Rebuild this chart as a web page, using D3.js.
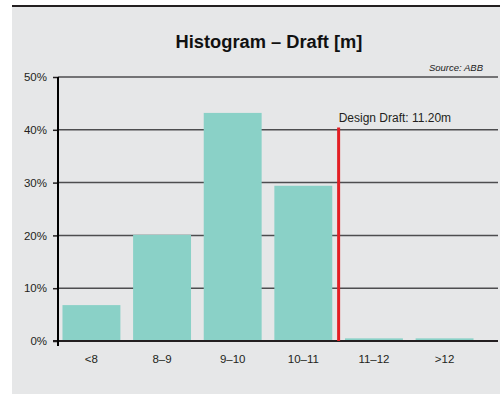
<!DOCTYPE html>
<html><head><meta charset="utf-8">
<script src="https://cdn.jsdelivr.net/npm/d3@7"></script>
<style>body{margin:0;background:#fff;}svg{display:block;font-family:"Liberation Sans",Arial,sans-serif;}</style>
</head><body>
<script>
const categories = ["<8", "8–9", "9–10", "10–11", "11–12", ">12"];
const shares = [6.8, 20.1, 43.2, 29.4, 0.5, 0.5];
const yTicks = [0, 10, 20, 30, 40, 50];
const designDraft = 11.20;
const binLower = [null, 8, 9, 10, 11, 12];

const W = 500, H = 394;
const svg = d3.select("body").append("svg").attr("width", W).attr("height", H);

svg.append("rect").attr("x", 12).attr("y", 5).attr("width", W - 12).attr("height", 389).attr("fill", "#e6e7e8");
svg.append("line").attr("x1", 12).attr("x2", W).attr("y1", 6).attr("y2", 6).attr("stroke", "#231f20").attr("stroke-width", 2);

svg.append("text").attr("x", 269).attr("y", 48).attr("text-anchor", "middle")
  .attr("font-size", 18.3).attr("font-weight", "bold").attr("fill", "#111").text("Histogram – Draft [m]");
svg.append("text").attr("x", 483).attr("y", 71).attr("text-anchor", "end")
  .attr("font-size", 9.5).attr("font-style", "italic").attr("fill", "#222").text("Source: ABB");

const y = d3.scaleLinear().domain([0, 50]).range([341, 77]);
const x = d3.scaleBand().domain(categories).range([54.5, 481.5]).paddingInner(0.18).paddingOuter(0.113);

// gridlines
svg.append("g").selectAll("line").data(yTicks.filter(d => d > 0)).join("line")
  .attr("x1", 58).attr("x2", 498).attr("y1", d => y(d)).attr("y2", d => y(d))
  .attr("stroke", "#4d4d4f").attr("stroke-width", 1.5);

// bars
svg.append("g").selectAll("rect").data(shares).join("rect")
  .attr("x", (d, i) => x(categories[i])).attr("width", x.bandwidth())
  .attr("y", d => y(d)).attr("height", d => y(0) - y(d)).attr("fill", "#8ad1c7");

// baseline
svg.append("line").attr("x1", 53).attr("x2", 498).attr("y1", y(0)).attr("y2", y(0)).attr("stroke", "#231f20").attr("stroke-width", 1.8);
// y axis
const yAxis = d3.axisLeft(y).tickValues(yTicks).tickFormat(d => d + "%").tickSize(5).tickPadding(6);
const ga = svg.append("g").attr("transform", "translate(58,0)").call(yAxis);
ga.select(".domain").remove();
ga.selectAll(".tick line").attr("stroke", "#231f20").attr("stroke-width", 1.5);
ga.selectAll(".tick text").attr("font-size", 11.5).attr("fill", "#231f20").attr("font-family", "Liberation Sans, Arial, sans-serif");
svg.append("line").attr("x1", 58).attr("x2", 58).attr("y1", y(50)).attr("y2", y(0) + 5).attr("stroke", "#000").attr("stroke-width", 2);

// x labels
const xAxis = d3.axisBottom(x).tickSize(0).tickPadding(14);
const gx = svg.append("g").attr("transform", `translate(0,${y(0)})`).call(xAxis);
gx.select(".domain").remove();
gx.selectAll(".tick text").attr("font-size", 11.5).attr("fill", "#231f20").attr("font-family", "Liberation Sans, Arial, sans-serif");

// design draft line: placed between the bins around the threshold
const idx = binLower.findIndex(b => b === Math.floor(designDraft));
const gap = x.step() - x.bandwidth();
const lineX = x(categories[idx]) - gap / 2;
svg.append("line").attr("x1", lineX).attr("x2", lineX).attr("y1", 127.5).attr("y2", y(0))
  .attr("stroke", "#e31e24").attr("stroke-width", 3);
svg.append("text").attr("x", lineX).attr("y", 122).attr("font-size", 12).attr("fill", "#231f20")
  .text("Design Draft: " + designDraft.toFixed(2) + "m");
</script>
</body></html>
